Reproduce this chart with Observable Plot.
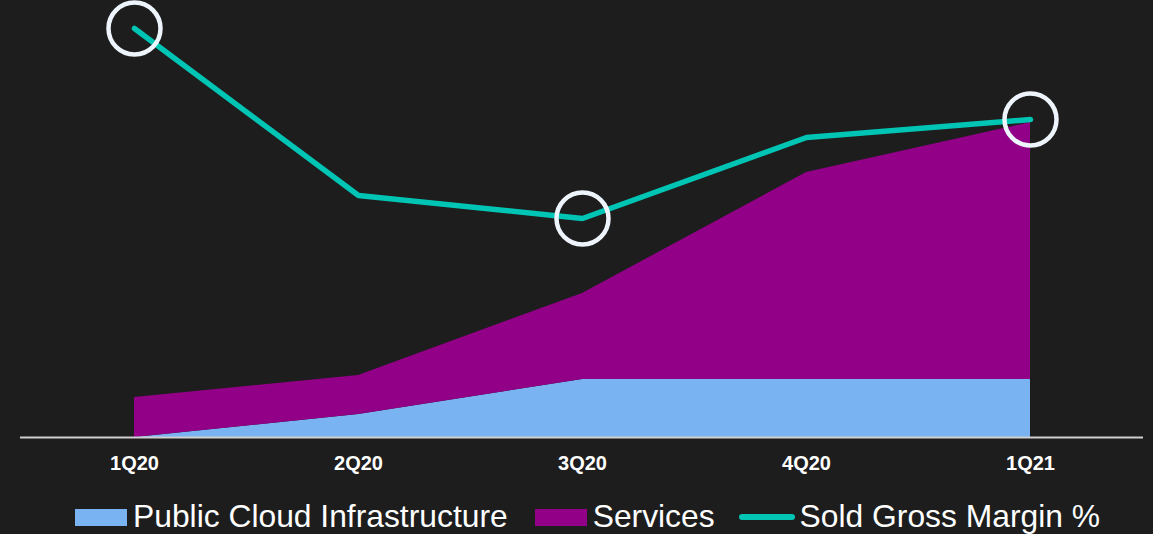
<!DOCTYPE html>
<html>
<head>
<meta charset="utf-8">
<script src="https://cdn.jsdelivr.net/npm/d3@7"></script>
<script src="https://cdn.jsdelivr.net/npm/@observablehq/plot@0.6"></script>
<style>
  html, body { margin: 0; padding: 0; background: #1d1d1d; width: 1153px; height: 534px; overflow: hidden; }
  #wrap { position: relative; width: 1153px; height: 534px; font-family: "Liberation Sans", Arial, sans-serif; }
  #legend { position: absolute; left: 75px; top: 499px; height: 34px; display: flex; align-items: flex-start; color: #fff; font-size: 31.8px; line-height: 34px; }
  .sw { width: 52px; height: 17px; margin-top: 10px; margin-right: 6px; }
  .ln { width: 56px; height: 6px; margin-top: 15px; border-radius: 3px; margin-right: 5px; }
  .item { display: flex; align-items: flex-start; }
  #chart svg g[aria-label="x-axis tick label"] text { font-size: 20px; font-weight: bold; }
</style>
</head>
<body>
<div id="wrap">
  <div id="chart"></div>
  <div id="legend"></div>
</div>
<script>
const quarters = ["1Q20", "2Q20", "3Q20", "4Q20", "1Q21"];
const cloudRevenue = [0, 23, 58, 58, 58];
const servicesRevenue = [40, 39, 86, 207, 257];
const grossMargin = [60.9, 44.2, 41.9, 50, 51.8];
const highlighted = ["1Q20", "3Q20", "1Q21"];
const seriesNames = ["Public Cloud Infrastructure", "Services", "Sold Gross Margin %"];
const seriesColors = ["#79b3f2", "#920087", "#00c5b5"];

// secondary axis for the margin % line
const marginToY = d3.scaleLinear().domain([20, 63.7]).range([0, 437]);

const areaRows = [];
quarters.forEach((q, i) => {
  areaRows.push({quarter: q, series: seriesNames[0], value: cloudRevenue[i]});
  areaRows.push({quarter: q, series: seriesNames[1], value: servicesRevenue[i]});
});
const marginRows = quarters.map((q, i) => ({quarter: q, margin: grossMargin[i]}));

const chart = Plot.plot({
  width: 1153,
  height: 480,
  marginLeft: 20,
  marginRight: 10,
  marginTop: 0,
  marginBottom: 43,
  style: {background: "transparent", color: "#ffffff", overflow: "visible", fontSize: "20px", fontFamily: "'Liberation Sans', Arial, sans-serif"},
  x: {type: "point", domain: quarters, padding: 0.5, label: null},
  y: {domain: [0, 437], axis: null},
  color: {domain: seriesNames, range: seriesColors},
  marks: [
    Plot.areaY(areaRows, {x: "quarter", y: "value", fill: "series", order: seriesNames.slice(0, 2)}),
    Plot.ruleY([0], {stroke: "#d0d0d0", strokeWidth: 2}),
    Plot.lineY(marginRows, {x: "quarter", y: d => marginToY(d.margin), stroke: seriesColors[2], strokeWidth: 5.5, strokeLinecap: "round", strokeLinejoin: "round"}),
    Plot.dot(marginRows.filter(d => highlighted.includes(d.quarter)), {x: "quarter", y: d => marginToY(d.margin), r: 26, stroke: "#eef4fb", strokeWidth: 4.5, fill: "none"}),
    Plot.axisX({tickSize: 0, tickPadding: 18, fontSize: 20, fontWeight: "bold", fill: "#ffffff"})
  ]
});
document.getElementById("chart").appendChild(chart);

const legend = document.getElementById("legend");
const gaps = [27, 24, 0];
seriesNames.forEach((name, i) => {
  const item = document.createElement("div");
  item.className = "item";
  item.style.marginRight = gaps[i] + "px";
  const sw = document.createElement("div");
  sw.className = i < 2 ? "sw" : "ln";
  sw.style.background = seriesColors[i];
  const t = document.createElement("span");
  t.textContent = name;
  item.appendChild(sw);
  item.appendChild(t);
  legend.appendChild(item);
});
</script>
</body>
</html>
